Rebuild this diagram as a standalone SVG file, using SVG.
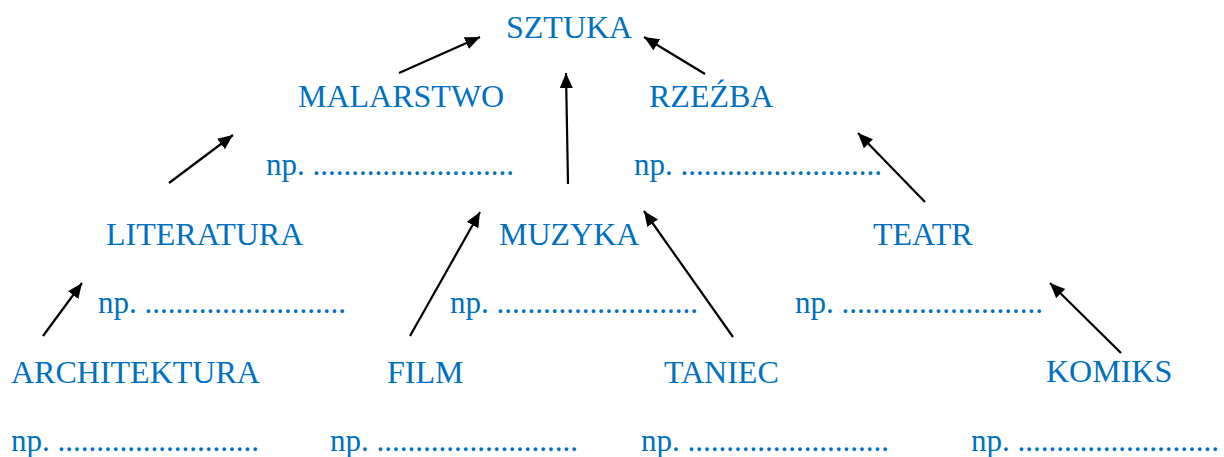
<svg xmlns="http://www.w3.org/2000/svg" width="1224" height="457" viewBox="0 0 1224 457">
<style>
text{font-family:"Liberation Serif","Times New Roman",serif;font-size:32px;fill:#0070C0}
text.np{font-size:31px}
.c line{stroke:#000;stroke-width:2.2;marker-end:url(#ah)}
</style>
<defs>
<marker id="ah" markerUnits="userSpaceOnUse" markerWidth="16" markerHeight="14" refX="15" refY="7" orient="auto">
<path d="M0,0.5 L15,7 L0,13.5 Z" fill="#000"/>
</marker>
</defs>
<rect width="1224" height="457" fill="#fff"/>
<g id="sztuka"><text x="506" y="38">SZTUKA</text></g>
<g id="malarstwo"><text x="298" y="107">MALARSTWO</text>
<text class="np" x="266" y="175">np. ..........................</text></g>
<g id="rzezba"><text x="649" y="107">RZEŹBA</text>
<text class="np" x="634" y="175">np. ..........................</text></g>
<g id="literatura"><text x="106" y="245">LITERATURA</text>
<text class="np" x="98" y="313">np. ..........................</text></g>
<g id="muzyka"><text x="499" y="245">MUZYKA</text>
<text class="np" x="450" y="313">np. ..........................</text></g>
<g id="teatr"><text x="873" y="245">TEATR</text>
<text class="np" x="795" y="313">np. ..........................</text></g>
<g id="architektura"><text x="11" y="383">ARCHITEKTURA</text>
<text class="np" x="11" y="451">np. ..........................</text></g>
<g id="film"><text x="387" y="383">FILM</text>
<text class="np" x="330" y="451">np. ..........................</text></g>
<g id="taniec"><text x="664" y="383">TANIEC</text>
<text class="np" x="641" y="451">np. ..........................</text></g>
<g id="komiks"><text x="1046" y="382">KOMIKS</text>
<text class="np" x="971" y="451">np. ..........................</text></g>
<g class="c" id="connectors">
<line x1="399" y1="73" x2="480" y2="37"/>
<line x1="705" y1="74" x2="644" y2="37"/>
<line x1="568" y1="184" x2="566" y2="73"/>
<line x1="169" y1="183" x2="233" y2="135"/>
<line x1="925" y1="202" x2="858" y2="133"/>
<line x1="43" y1="336" x2="82" y2="283"/>
<line x1="410" y1="336" x2="480" y2="212"/>
<line x1="733" y1="337" x2="644" y2="211"/>
<line x1="1121" y1="353" x2="1050" y2="283"/>
</g>
</svg>
